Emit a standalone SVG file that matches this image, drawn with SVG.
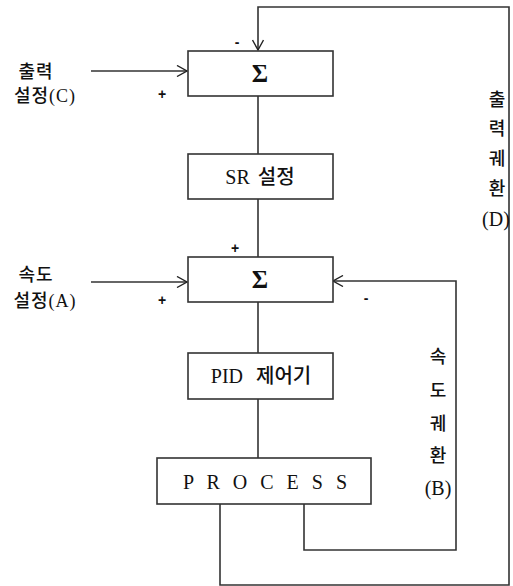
<svg xmlns="http://www.w3.org/2000/svg" width="513" height="586" viewBox="0 0 513 586">
<defs>
<marker id="arr" viewBox="0 0 12 12" refX="11" refY="6" markerWidth="12" markerHeight="12" markerUnits="userSpaceOnUse" orient="auto">
<polyline points="1,0.5 11,6 1,11.5" fill="none" stroke="#222" stroke-width="1.4"/>
</marker>
<style>
.box{fill:#fff;stroke:#333;stroke-width:1.6}
.ln{fill:none;stroke:#333;stroke-width:1.6}
.t{font-family:"Liberation Serif","Noto Sans CJK KR",serif;font-size:20px;fill:#111;font-weight:500}
.sig{font-family:"Liberation Serif",serif;font-size:25px;fill:#111;font-weight:bold}
.k{font-family:"Liberation Serif","Noto Sans CJK KR",serif;font-size:18px;fill:#111;font-weight:500}
.s{font-family:"Liberation Sans",sans-serif;font-size:14px;fill:#111;font-weight:bold}
</style>
</defs>
<g id="connectors">
<line class="ln" x1="91" y1="71" x2="187" y2="71" marker-end="url(#arr)"/>
<line class="ln" x1="91" y1="282" x2="187" y2="282" marker-end="url(#arr)"/>
<line class="ln" x1="258" y1="96" x2="258" y2="154"/>
<line class="ln" x1="258" y1="199" x2="258" y2="257"/>
<line class="ln" x1="258" y1="302" x2="258" y2="353"/>
<line class="ln" x1="258" y1="399" x2="258" y2="458"/>
<polyline class="ln" points="220,504 220,585 509,585 509,7 258,7 258,50" marker-end="url(#arr)"/>
<polyline class="ln" points="304,504 304,550 456,550 456,281 333,281" marker-end="url(#arr)"/>
</g>
<g id="sum1">
<rect class="box" x="188" y="51" width="145" height="45"/>
<text class="sig" x="260" y="82" text-anchor="middle">Σ</text>
</g>
<g id="sr">
<rect class="box" x="188" y="154" width="145" height="45"/>
<text class="t" x="260" y="184" text-anchor="middle" word-spacing="3">SR 설정</text>
</g>
<g id="sum2">
<rect class="box" x="188" y="257" width="145" height="45"/>
<text class="sig" x="260" y="288" text-anchor="middle">Σ</text>
</g>
<g id="pid">
<rect class="box" x="188" y="353" width="145" height="46"/>
<text class="t" x="261" y="383" text-anchor="middle" word-spacing="8">PID 제어기</text>
</g>
<g id="process">
<rect class="box" x="157" y="458" width="214" height="46"/>
<text class="t" x="183" y="489" textLength="164" lengthAdjust="spacing">P R O C E S S</text>
</g>
<g id="labels">
<text class="k" x="36" y="78" text-anchor="middle" letter-spacing="1">출력</text>
<text class="k" x="45" y="102" text-anchor="middle" letter-spacing="1">설정(C)</text>
<text class="k" x="36" y="281" text-anchor="middle" letter-spacing="1">속도</text>
<text class="k" x="45" y="307" text-anchor="middle" letter-spacing="1">설정(A)</text>
<text class="s" x="162" y="99" text-anchor="middle">+</text>
<text class="s" x="237" y="47" text-anchor="middle">-</text>
<text class="s" x="162" y="305" text-anchor="middle">+</text>
<text class="s" x="235" y="253" text-anchor="middle">+</text>
<text class="s" x="366" y="303" text-anchor="middle">-</text>
<text class="k" x="497" y="106" text-anchor="middle">출</text>
<text class="k" x="497" y="135" text-anchor="middle">력</text>
<text class="k" x="497" y="165" text-anchor="middle">궤</text>
<text class="k" x="497" y="195" text-anchor="middle">환</text>
<text class="t" x="496" y="226" text-anchor="middle">(D)</text>
<text class="k" x="438" y="363" text-anchor="middle">속</text>
<text class="k" x="438" y="397" text-anchor="middle">도</text>
<text class="k" x="438" y="430" text-anchor="middle">궤</text>
<text class="k" x="438" y="462" text-anchor="middle">환</text>
<text class="t" x="438" y="495" text-anchor="middle">(B)</text>
</g>
</svg>
